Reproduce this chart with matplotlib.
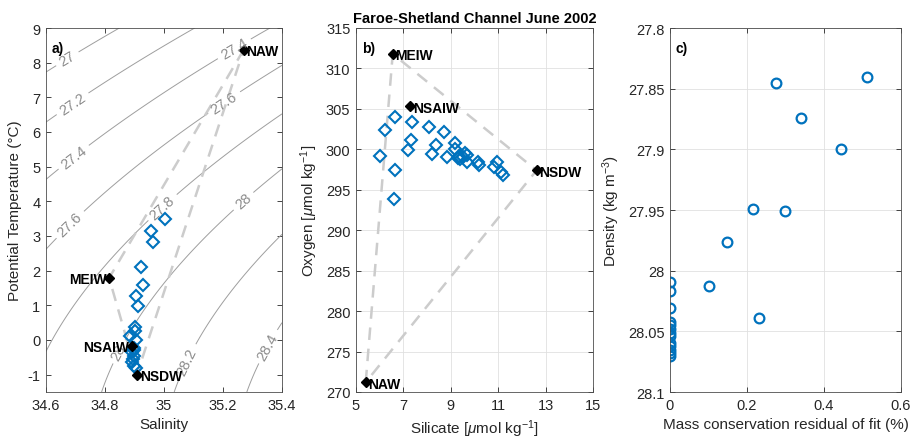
import numpy as np
import matplotlib
matplotlib.use('Agg')
import matplotlib.pyplot as plt

plt.rcParams['font.family'] = ['Liberation Sans', 'DejaVu Sans']
plt.rcParams['mathtext.fontset'] = 'custom'
plt.rcParams['mathtext.rm'] = 'Liberation Sans'
plt.rcParams['mathtext.it'] = 'Liberation Sans:italic'
plt.rcParams['axes.unicode_minus'] = False

BLUE = '#0072BD'
AXC = '#262626'

# a) theta-S
sal = [35.004, 34.957, 34.964, 34.922, 34.930, 34.904, 34.912, 34.903, 34.903,
       34.905, 34.886, 34.897, 34.892, 34.900, 34.895, 34.900, 34.892, 34.900, 34.905]
theta = [3.49, 3.14, 2.82, 2.10, 1.59, 1.28, 0.99, 0.38, 0.27,
         0.01, 0.11, -0.22, -0.35, -0.45, -0.55, -0.30, -0.64, -0.74, -0.80]
em_names = ['NAW', 'MEIW', 'NSAIW', 'NSDW']
em_sal = [35.27, 34.814, 34.89, 34.908]
em_theta = [8.37, 1.79, -0.17, -1.0]

# b) oxygen-silicate
si = [6.01, 6.24, 6.65, 6.65, 6.62, 7.35, 7.32, 7.20, 8.10, 8.70, 8.38, 8.21, 8.83, 9.18,
      9.18, 9.36, 9.40, 9.60, 9.67, 9.67, 10.15, 10.20, 10.93, 10.83, 11.12, 11.22, 9.50, 9.30]
ox = [299.2, 302.4, 304.0, 297.5, 293.9, 303.4, 301.2, 299.9, 302.8, 302.2, 300.5, 299.4, 299.1, 300.8,
      300.0, 299.2, 298.8, 299.5, 299.3, 298.4, 298.4, 298.1, 298.4, 297.8, 297.2, 296.8, 299.0, 298.9]
em_si = [5.41, 6.55, 7.28, 12.62]
em_ox = [271.2, 311.8, 305.3, 297.4]

# c) residual vs density
resid = [0.276, 0.511, 0.341, 0.444, 0.216, 0.299, 0.149, 0.102, 0.231,
         0, 0, 0, 0, 0, 0, 0, 0, 0, 0, 0, 0, 0]
dens = [27.845, 27.84, 27.874, 27.9, 27.949, 27.951, 27.976, 28.013, 28.039,
        28.009, 28.017, 28.031, 28.042, 28.045, 28.048, 28.051, 28.054, 28.06,
        28.062, 28.065, 28.068, 28.07]

sigma_levels = [27.0, 27.2, 27.4, 27.6, 27.8, 28.0, 28.2, 28.4]
label_pos = [(34.674, 8.09), (34.696, 6.74), (34.696, 5.25), (35.237, 8.42),
             (35.20, 6.9), (34.685, 3.3), (34.99, 3.87), (35.27, 4.0),
             (34.85, -0.35), (35.085, -0.64), (35.346, -0.16)]

triangle = ['NAW', 'MEIW', 'NSDW', 'NAW']


def sigma0(S, T):
    # UNESCO EOS-80 at surface pressure
    rw = (999.842594 + 6.793952e-2 * T - 9.095290e-3 * T**2 + 1.001685e-4 * T**3
          - 1.120083e-6 * T**4 + 6.536332e-9 * T**5)
    A = 0.824493 - 4.0899e-3 * T + 7.6438e-5 * T**2 - 8.2467e-7 * T**3 + 5.3875e-9 * T**4
    B = -5.72466e-3 + 1.0227e-4 * T - 1.6546e-6 * T**2
    return rw + A * S + B * S**1.5 + 4.8314e-4 * S**2 - 1000.0


def style(ax):
    ax.tick_params(direction='in', top=True, right=True, length=3.5, width=0.6,
                   colors=AXC, labelsize=10.5, pad=4)
    for sp in ax.spines.values():
        sp.set_color('0.3')
        sp.set_linewidth(0.6)


def tri(xs, ys):
    idx = [em_names.index(n) for n in triangle]
    return [xs[i] for i in idx], [ys[i] for i in idx]


def em_label(ax, name, x, y, ha):
    dx = 2 if ha == 'left' else -2
    ax.annotate(name, (x, y), xytext=(dx, -1), textcoords='offset points',
                ha=ha, va='center', fontsize=10, fontweight='bold', zorder=5)


fig = plt.figure(figsize=(9.14, 4.39), dpi=100)
bot, h = 46 / 439, 364 / 439
ax_a = fig.add_axes([46 / 914, bot, 236 / 914, h])
ax_b = fig.add_axes([356 / 914, bot, 237 / 914, h])
ax_c = fig.add_axes([670 / 914, bot, 231 / 914, h])

# ---- a)
SS, TT = np.meshgrid(np.linspace(34.6, 35.4, 200), np.linspace(-1.5, 9, 200))
cs = ax_a.contour(SS, TT, sigma0(SS, TT), levels=sigma_levels, colors='0.62', linewidths=0.7)
ax_a.clabel(cs, inline=True, fmt='%g', fontsize=10.5, colors='0.55', manual=label_pos, inline_spacing=5)
tx, ty = tri(em_sal, em_theta)
ax_a.plot(tx, ty, '--', color='0.8', lw=1.8, dashes=(5, 3.5))
ax_a.plot(sal, theta, 'D', ms=6, mfc='none', mec=BLUE, mew=1.5)
ax_a.plot(em_sal, em_theta, 'D', ms=5, color='k')
align_a = {'NAW': 'left', 'MEIW': 'right', 'NSAIW': 'right', 'NSDW': 'left'}
for n, x, y in zip(em_names, em_sal, em_theta):
    em_label(ax_a, n, x, y, align_a[n])
ax_a.set_xlim(34.6, 35.4)
ax_a.set_ylim(-1.5, 9)
ax_a.set_xticks([34.6, 34.8, 35, 35.2, 35.4])
ax_a.set_xticklabels(['34.6', '34.8', '35', '35.2', '35.4'])
ax_a.set_yticks(range(-1, 10))
ax_a.set_xlabel('Salinity', fontsize=11, color=AXC)
ax_a.set_ylabel('Potential Temperature (°C)', fontsize=11, color=AXC)
ax_a.text(0.025, 0.965, 'a)', transform=ax_a.transAxes, fontsize=10, fontweight='bold', va='top')
style(ax_a)

# ---- b)
ax_b.grid(True, color='0.88', lw=0.6)
ax_b.set_axisbelow(True)
tx, ty = tri(em_si, em_ox)
ax_b.plot(tx, ty, '--', color='0.8', lw=1.8, dashes=(5, 3.5))
ax_b.plot(si, ox, 'D', ms=6, mfc='none', mec=BLUE, mew=1.5)
ax_b.plot(em_si, em_ox, 'D', ms=5, color='k')
for n, x, y in zip(em_names, em_si, em_ox):
    em_label(ax_b, n, x, y, 'left')
ax_b.set_xlim(5, 15)
ax_b.set_ylim(270, 315)
ax_b.set_xticks([5, 7, 9, 11, 13, 15])
ax_b.set_yticks(range(270, 316, 5))
ax_b.set_xlabel(r'Silicate [$\mu$mol kg$^{-1}$]', fontsize=11, color=AXC)
ax_b.set_ylabel(r'Oxygen [$\mu$mol kg$^{-1}$]', fontsize=11, color=AXC)
ax_b.set_title('Faroe-Shetland Channel June 2002', fontsize=10.5, fontweight='bold', pad=4)
ax_b.text(0.025, 0.965, 'b)', transform=ax_b.transAxes, fontsize=10, fontweight='bold', va='top')
style(ax_b)

# ---- c)
ax_c.grid(True, color='0.88', lw=0.6)
ax_c.set_axisbelow(True)
ax_c.plot(resid, dens, 'o', ms=7, mfc='none', mec=BLUE, mew=1.6)
ax_c.set_xlim(0, 0.6)
ax_c.set_ylim(28.1, 27.8)
ax_c.set_xticks([0, 0.2, 0.4, 0.6])
ax_c.set_xticklabels(['0', '0.2', '0.4', '0.6'])
ax_c.set_yticks([27.8, 27.85, 27.9, 27.95, 28, 28.05, 28.1])
ax_c.set_yticklabels(['27.8', '27.85', '27.9', '27.95', '28', '28.05', '28.1'])
ax_c.set_xlabel('Mass conservation residual of fit (%)', fontsize=11, color=AXC)
ax_c.set_ylabel(r'Density (kg m$^{-3}$)', fontsize=11, color=AXC)
ax_c.text(0.025, 0.965, 'c)', transform=ax_c.transAxes, fontsize=10, fontweight='bold', va='top')
style(ax_c)

fig.savefig('out.png', dpi=100)
